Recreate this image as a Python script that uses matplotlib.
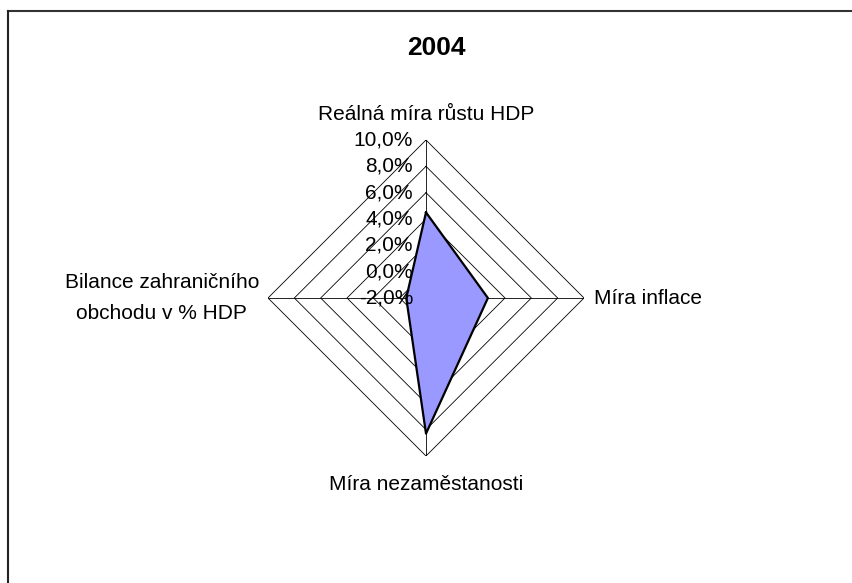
import matplotlib
matplotlib.use("Agg")
import matplotlib.pyplot as plt
import matplotlib.transforms as mtransforms
from matplotlib.lines import Line2D
import numpy as np

plt.rcParams['font.family'] = ['Liberation Sans', 'DejaVu Sans']

# -------------------------
# data (2004)
# -------------------------
title = "2004"
categories = ["Reálná míra růstu HDP", "Míra inflace", "Míra nezaměstanosti",
              "Bilance zahraničního\nobchodu v % HDP"]
values = [4.5, 2.7, 8.3, -0.5]
ticks = [-2, 0, 2, 4, 6, 8, 10]
tick_labels = ["-2,0%", "0,0%", "2,0%", "4,0%", "6,0%", "8,0%", "10,0%"]

W, H = 852, 583
fig = plt.figure(figsize=(W / 100, H / 100), dpi=100)

# polar axes: centre at (426, 298) px from top-left, radius 158 px
cx, cy, rad = 426, 298, 158
ax = fig.add_axes([(cx - rad) / W, (H - cy - rad) / H, 2 * rad / W, 2 * rad / H],
                  projection="polar")
ax.set_theta_zero_location("N")
ax.set_theta_direction(-1)
ax.set_rlim(ticks[0], ticks[-1])
ax.grid(False)
ax.set_xticks([])
ax.set_yticks([])
ax.spines["polar"].set_visible(False)
ax.patch.set_alpha(0)

n = len(categories)
theta = np.arange(n) * 2 * np.pi / n
theta_c = np.append(theta, theta[0])

# diamond rings
for t in ticks[1:]:
    ax.plot(theta_c, [t] * (n + 1), color="black", lw=0.6, zorder=1)
# spokes
for th in theta:
    ax.plot([th, th], [ticks[0], ticks[-1]], color="black", lw=0.6, zorder=1)

# data polygon
vals_c = values + values[:1]
ax.fill(theta_c, vals_c, facecolor="#9999ff", edgecolor="none", zorder=2)
ax.plot(theta_c, vals_c, color="black", lw=1.6, zorder=3)

# tick labels along the top spoke
tick_tr = mtransforms.offset_copy(ax.transData, fig=fig, x=-13, y=0, units="dots")
for t, lab in zip(ticks, tick_labels):
    ax.text(0, t, lab, transform=tick_tr, ha="right", va="center", fontsize=15, zorder=4)

# category labels
offsets = [(0, 26, "center", "center"), (10, 0, "left", "center"),
           (0, -28, "center", "center"), (-9, 0, "right", "center")]
for th, lab, (dx, dy, ha, va) in zip(theta, categories, offsets):
    tr = mtransforms.offset_copy(ax.transData, fig=fig, x=dx, y=dy, units="dots")
    ax.text(th, ticks[-1], lab, transform=tr, ha=ha, va=va, fontsize=15,
            multialignment="center", linespacing=1.75)

fig.text(436 / W, 1 - 48 / H, title, ha="center", va="center", fontsize=19, fontweight="bold")

# outer frame (cut at right and bottom)
fig.add_artist(Line2D([7.5 / W, 1], [1 - 10.5 / H, 1 - 10.5 / H], color="#333333", lw=1.5))
fig.add_artist(Line2D([7.5 / W, 7.5 / W], [0, 1 - 10.5 / H], color="#222222", lw=1.5))

fig.savefig("out.png", dpi=100)
